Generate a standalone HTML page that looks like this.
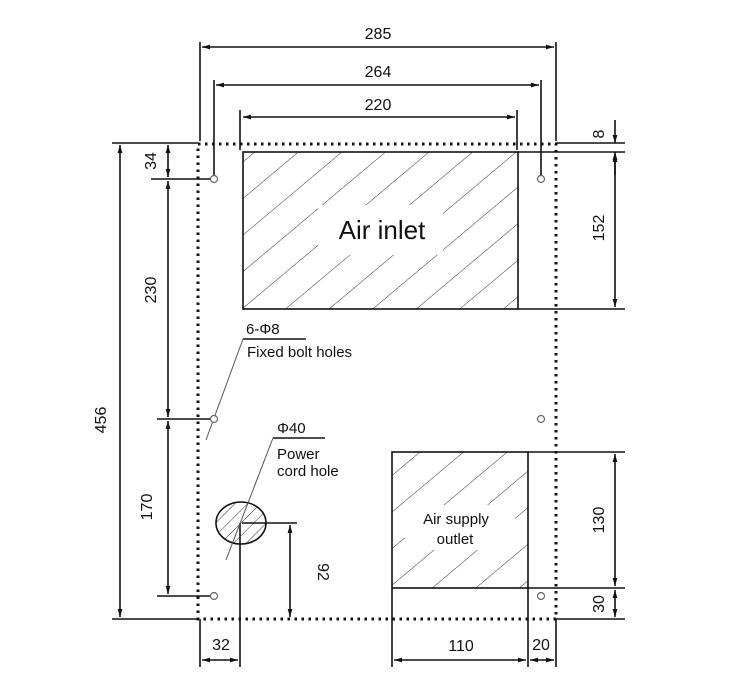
<!DOCTYPE html>
<html><head><meta charset="utf-8"><style>
html,body{margin:0;padding:0;background:#fff}
svg{display:block}
text{font-family:"Liberation Sans",sans-serif;fill:#111}
</style></head><body>
<svg width="750" height="700" viewBox="0 0 750 700" xmlns="http://www.w3.org/2000/svg">
<defs>
<pattern id="h" patternUnits="userSpaceOnUse" width="28" height="28" patternTransform="rotate(50)">
<line x1="0" y1="0" x2="0" y2="28" stroke="#333" stroke-width="1"/>
</pattern>
<pattern id="h2" patternUnits="userSpaceOnUse" width="9" height="9" patternTransform="rotate(45)">
<line x1="0" y1="0" x2="0" y2="9" stroke="#333" stroke-width="1"/>
</pattern>
<marker id="a" viewBox="0 0 10 10" refX="10" refY="5" markerWidth="8" markerHeight="8" orient="auto-start-reverse" markerUnits="userSpaceOnUse"><path d="M0,2 L10,5 L0,8 z" fill="#111"/></marker>
</defs>
<g stroke="#111" stroke-width="1.6" fill="none">
<!-- outer dotted -->
<rect x="198" y="144" width="358" height="475" stroke-dasharray="2.5 4.5" stroke-width="3"/>
<!-- air inlet -->
<rect x="243" y="152" width="275" height="157" fill="url(#h)"/>
<rect x="318" y="205" width="125" height="50" fill="#fff" stroke="none"/>
<line x1="518" y1="152" x2="625" y2="152"/>
<line x1="518" y1="309" x2="625" y2="309"/>
<!-- air outlet -->
<rect x="392" y="452" width="136" height="136" fill="url(#h)"/>
<rect x="405" y="505" width="110" height="45" fill="#fff" stroke="none"/>
<line x1="528" y1="452" x2="625" y2="452"/>
<line x1="528" y1="588" x2="625" y2="588"/>
<line x1="392" y1="588" x2="392" y2="667"/>
<line x1="528" y1="588" x2="528" y2="667"/>
<line x1="556" y1="619" x2="556" y2="667"/>
<line x1="200" y1="619" x2="200" y2="667"/>
<!-- top ext lines -->
<line x1="112" y1="143" x2="198" y2="143"/>
<line x1="556" y1="143" x2="625" y2="143"/>
<line x1="112" y1="619" x2="198" y2="619"/>
<line x1="556" y1="619" x2="625" y2="619"/>
<!-- top dims verticals -->
<line x1="200" y1="42" x2="200" y2="141"/>
<line x1="556" y1="42" x2="556" y2="141"/>
<line x1="214" y1="80" x2="214" y2="176"/>
<line x1="541" y1="80" x2="541" y2="176"/>
<line x1="240" y1="110" x2="240" y2="150"/>
<line x1="517" y1="110" x2="517" y2="150"/>
<line x1="202" y1="47" x2="554" y2="47" marker-start="url(#a)" marker-end="url(#a)"/>
<line x1="216" y1="85" x2="539" y2="85" marker-start="url(#a)" marker-end="url(#a)"/>
<line x1="243" y1="117" x2="515" y2="117" marker-start="url(#a)" marker-end="url(#a)"/>
<!-- left dims -->
<line x1="120" y1="145" x2="120" y2="617" marker-start="url(#a)" marker-end="url(#a)"/>
<line x1="151" y1="179" x2="211" y2="179"/>
<line x1="157" y1="419" x2="211" y2="419"/>
<line x1="157" y1="596" x2="211" y2="596"/>
<line x1="168" y1="145" x2="168" y2="177" marker-start="url(#a)" marker-end="url(#a)"/>
<line x1="168" y1="181" x2="168" y2="417" marker-start="url(#a)" marker-end="url(#a)"/>
<line x1="168" y1="421" x2="168" y2="594" marker-start="url(#a)" marker-end="url(#a)"/>
<!-- right dims -->
<line x1="615" y1="120" x2="615" y2="143" marker-end="url(#a)"/>
<line x1="615" y1="175" x2="615" y2="152" marker-end="url(#a)"/>
<line x1="615" y1="154" x2="615" y2="307" marker-start="url(#a)" marker-end="url(#a)"/>
<line x1="615" y1="454" x2="615" y2="586" marker-start="url(#a)" marker-end="url(#a)"/>
<line x1="615" y1="590" x2="615" y2="617" marker-start="url(#a)" marker-end="url(#a)"/>
<!-- bottom dims -->
<line x1="240" y1="523" x2="240" y2="667"/>
<line x1="202" y1="660" x2="238" y2="660" marker-start="url(#a)" marker-end="url(#a)"/>
<line x1="394" y1="660" x2="526" y2="660" marker-start="url(#a)" marker-end="url(#a)"/>
<line x1="530" y1="660" x2="554" y2="660" marker-start="url(#a)" marker-end="url(#a)"/>
<!-- power cord hole -->
<ellipse cx="241" cy="523" rx="25" ry="21" fill="url(#h2)"/>
<line x1="242" y1="523" x2="297" y2="523"/>
<line x1="290" y1="525" x2="290" y2="617" marker-start="url(#a)" marker-end="url(#a)"/>
<!-- leaders -->
<line x1="273" y1="438" x2="325" y2="438"/>
<line x1="243" y1="339" x2="306" y2="339"/>
</g>
<g stroke="#555" stroke-width="1" fill="none">
<line x1="273" y1="438" x2="226" y2="560"/>
<line x1="243" y1="339" x2="206" y2="440"/>
</g>
<g stroke="#666" stroke-width="1.2" fill="#fff">
<circle cx="214" cy="179" r="3.5"/><circle cx="541" cy="179" r="3.5"/>
<circle cx="214" cy="419" r="3.5"/><circle cx="541" cy="419" r="3.5"/>
<circle cx="214" cy="596" r="3.5"/><circle cx="541" cy="596" r="3.5"/>
</g>
<g font-size="16" text-anchor="middle">
<text x="378" y="39">285</text>
<text x="378" y="77">264</text>
<text x="378" y="110">220</text>
<text x="221" y="650">32</text>
<text x="461" y="651">110</text>
<text x="541" y="650">20</text>
<text transform="translate(106,420) rotate(-90)">456</text>
<text transform="translate(156,161) rotate(-90)">34</text>
<text transform="translate(156,290) rotate(-90)">230</text>
<text transform="translate(152,507) rotate(-90)">170</text>
<text transform="translate(604,228) rotate(-90)">152</text>
<text transform="translate(604,520) rotate(-90)">130</text>
<text transform="translate(604,604) rotate(-90)">30</text>
<text transform="translate(318,572) rotate(90)">92</text>
<text transform="translate(604,134) rotate(-90)">8</text>
</g>
<text x="382" y="239" font-size="26" text-anchor="middle">Air inlet</text>
<text x="456" y="524" font-size="15" text-anchor="middle">Air supply</text>
<text x="455" y="544" font-size="15" text-anchor="middle">outlet</text>
<text x="246" y="334" font-size="15">6-Φ8</text>
<text x="247" y="357" font-size="15">Fixed bolt holes</text>
<text x="277" y="433" font-size="15">Φ40</text>
<text x="277" y="459" font-size="15">Power</text>
<text x="277" y="476" font-size="15">cord hole</text>
</svg>
</body></html>
